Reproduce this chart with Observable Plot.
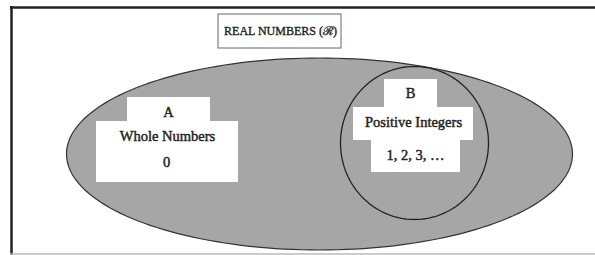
<!DOCTYPE html>
<html><head><meta charset="utf-8">
<script src="https://cdn.jsdelivr.net/npm/d3@7"></script>
<script src="https://cdn.jsdelivr.net/npm/@observablehq/plot@0.6"></script>
<style>body{margin:0;background:#fff}</style>
</head><body><div id="chart"></div>
<script>
// Sets (universe ellipse and subset circle): center x, center y, radius x, radius y
const setNames = ["Real", "Positive"];
const setCx = [319, 414];
const setCy = [153.5, 142.5];
const setRx = [253, 74];
const setRy = [96, 76.5];
const setFill = ["#a6a6a6", "none"];

// Title box
const titleText = ["REAL NUMBERS (\u211B)"];

// Label boxes (white blocks): x1, x2, y1, y2
const boxX1 = [127, 96, 384, 353, 371];
const boxX2 = [210, 238, 437, 473, 460];
const boxY1 = [97, 121, 79, 107, 140];
const boxY2 = [121, 182, 107, 140, 172];

// Labels
const labelText = ["A", "Whole Numbers", "0", "B", "Positive Integers", "1, 2, 3, \u2026"];
const labelX = [168, 167, 166, 410, 413, 415];
const labelY = [112, 136, 162, 93, 122, 155];

const boxes = boxX1.map((d, i) => ({x1: d, x2: boxX2[i], y1: boxY1[i], y2: boxY2[i]}));
const labels = labelText.map((t, i) => ({t, x: labelX[i], y: labelY[i]}));

// outline points for each set shape
const outlines = setNames.map((n, i) => {
  const pts = [];
  for (let k = 0; k <= 180; k++) {
    const a = (k / 180) * 2 * Math.PI;
    pts.push({set: n, x: setCx[i] + setRx[i] * Math.cos(a), y: setCy[i] + setRy[i] * Math.sin(a)});
  }
  return pts;
});

const font = "'Liberation Serif', 'DejaVu Serif', serif";
const chart = Plot.plot({
  width: 595, height: 255,
  margin: 0,
  x: {domain: [0, 595], range: [0, 595], axis: null},
  y: {domain: [0, 255], range: [0, 255], axis: null},
  marks: [
    Plot.line(outlines[0], {x: "x", y: "y", fill: setFill[0], stroke: "#333", strokeWidth: 1.2}),
    Plot.line(outlines[1], {x: "x", y: "y", fill: setFill[1], stroke: "#222", strokeWidth: 1.3}),
    Plot.rect(boxes, {x1: "x1", x2: "x2", y1: "y1", y2: "y2", fill: "white"}),
    Plot.rect([{x1: 218, x2: 341, y1: 14, y2: 48}], {x1: "x1", x2: "x2", y1: "y1", y2: "y2", fill: "white", stroke: "#666", strokeWidth: 1}),
    Plot.text(titleText, {x: 280, y: 30.5, text: d => d, fontSize: 12, fontFamily: font, fill: "#222", stroke: "#222", strokeWidth: 0.35}),
    Plot.text(labels, {x: "x", y: "y", text: "t", fontSize: 14.5, fontFamily: font, fill: "#222", stroke: "#222", strokeWidth: 0.45}),
    Plot.ruleX([11], {y1: 6, y2: 255, stroke: "#222", strokeWidth: 2.5}),
    Plot.ruleY([7], {x1: 10, x2: 595, stroke: "#222", strokeWidth: 2.5}),
    Plot.ruleY([253.5], {x1: 10, x2: 595, stroke: "#bbb", strokeWidth: 1.5})
  ]
});
document.getElementById("chart").append(chart);
</script>
</body></html>
